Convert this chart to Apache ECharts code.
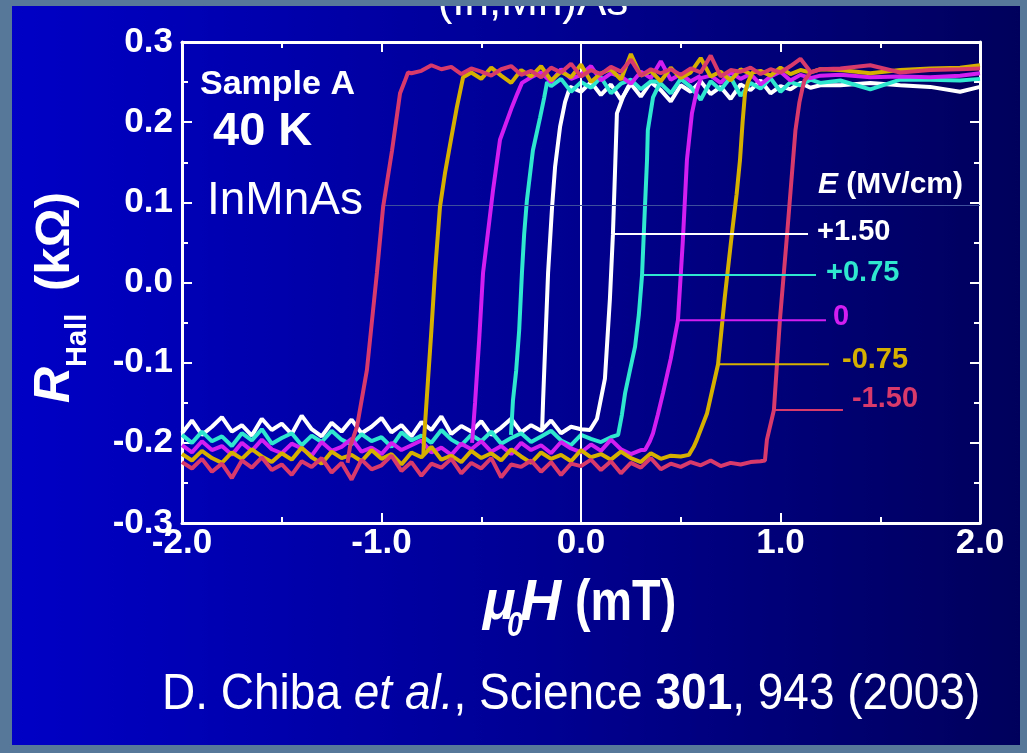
<!DOCTYPE html>
<html>
<head>
<meta charset="utf-8">
<script src="https://cdn.jsdelivr.net/npm/echarts@6/dist/echarts.min.js"></script>
<style>
  html, body { margin: 0; padding: 0; background: #58789a; }
  #chart { width: 1027px; height: 753px; }
</style>
</head>
<body>
<div id="chart"></div>
<script>
  // field grid used by the noisy flat parts of the loops (mT)
  const fieldGrid = [-2.00,-1.95,-1.90,-1.85,-1.80,-1.75,-1.70,-1.65,-1.60,-1.55,-1.50,-1.45,-1.40,-1.35,-1.30,-1.25,-1.20,-1.15,-1.10,-1.05,
    -1.00,-0.95,-0.90,-0.85,-0.80,-0.75,-0.70,-0.65,-0.60,-0.55,-0.50,-0.45,-0.40,-0.35,-0.30,-0.25,-0.20,-0.15,-0.10,-0.05,
    0.00,0.05,0.10,0.15,0.20,0.25,0.30,0.35,0.40,0.45,0.50,0.55,0.60,0.65,0.70,0.75,0.80,0.85,0.90,0.95,1.00,1.05,1.10,1.15,1.20];
  // sparse points at high field
  const tailField = [1.30, 1.45, 1.60, 1.75, 1.90, 2.00];

  const xTicks = [-2.0, -1.0, 0.0, 1.0, 2.0];
  const yTicks = [-0.3, -0.2, -0.1, 0.0, 0.1, 0.2, 0.3];

  // E = +1.50 MV/cm (white)
  const whiteBottom = [-0.188,-0.172,-0.190,-0.180,-0.168,-0.186,-0.178,-0.191,-0.170,-0.184,
    -0.176,-0.189,-0.166,-0.183,-0.192,-0.175,-0.186,-0.171,-0.188,-0.180,
    -0.169,-0.187,-0.178,-0.192,-0.174,-0.184,-0.167,-0.189,-0.179,-0.186,
    -0.173,-0.190,-0.181,-0.170,-0.187,-0.178,-0.185,-0.172,-0.188,-0.180,-0.183];
  const whiteRise = [[0.045,-0.184],[0.08,-0.17],[0.12,-0.12],[0.145,-0.02],[0.16,0.06],[0.172,0.15],[0.18,0.211],[0.21,0.231],[0.236,0.244]];
  const whiteTopRight = [0.248,0.232,0.250,0.240,0.226,0.246,0.238,0.251,0.235,0.244,
    0.229,0.247,0.240,0.252,0.236,0.245,0.241,0.249,0.243,0.246];
  const whiteTail = [0.246,0.249,0.246,0.244,0.238,0.244];
  const whiteFall = [[-0.195,-0.184],[-0.19,-0.147],[-0.178,-0.07],[-0.165,0.012],[-0.145,0.094],[-0.13,0.144],[-0.105,0.194],[-0.08,0.225],[-0.055,0.244]];
  const whiteTopLeft = [0.238,0.250,0.234,0.247,0.228,0.248];

  // E = +0.75 (cyan)
  const cyanBottom = [-0.190,-0.200,-0.186,-0.198,-0.192,-0.204,-0.188,-0.197,-0.183,-0.201,
    -0.194,-0.188,-0.203,-0.191,-0.199,-0.185,-0.196,-0.202,-0.189,-0.198,
    -0.193,-0.205,-0.187,-0.197,-0.191,-0.200,-0.184,-0.196,-0.203,-0.190,
    -0.198,-0.186,-0.201,-0.194,-0.188,-0.199,-0.192,-0.185,-0.197,-0.203,
    -0.190,-0.195,-0.199,-0.193];
  const cyanRise = [[0.186,-0.19],[0.205,-0.165],[0.221,-0.138],[0.245,-0.11],[0.271,-0.08],[0.29,-0.04],[0.306,0.009],[0.318,0.08],[0.331,0.153],[0.335,0.19],[0.361,0.231],[0.396,0.249]];
  const cyanTopRight = [0.250,0.236,0.254,0.244,0.228,0.251,0.240,0.256,0.233,0.249,
    0.242,0.255,0.238,0.250,0.246,0.253,0.249];
  const cyanTail = [0.252,0.241,0.253,0.253,0.252,0.254];
  const cyanFall = [[-0.351,-0.19],[-0.341,-0.147],[-0.325,-0.11],[-0.31,-0.06],[-0.296,0.012],[-0.285,0.06],[-0.271,0.103],[-0.241,0.165],[-0.205,0.206],[-0.185,0.23],[-0.17,0.25]];
  const cyanTopLeft = [0.245,0.254,0.238,0.250,0.243,0.256,0.236,0.248,0.253,0.241,0.251,0.250];

  // E = 0 (magenta)
  const magentaBottom = [-0.203,-0.212,-0.198,-0.209,-0.204,-0.215,-0.200,-0.210,-0.196,-0.208,
    -0.213,-0.201,-0.207,-0.216,-0.199,-0.210,-0.205,-0.195,-0.211,-0.206,
    -0.214,-0.200,-0.209,-0.203,-0.197,-0.212,-0.206,-0.215,-0.201,-0.208,
    -0.198,-0.211,-0.204,-0.214,-0.200,-0.209,-0.203,-0.213,-0.199,-0.207,
    -0.212,-0.202,-0.210,-0.196,-0.208,-0.214,-0.209];
  const magentaRise = [[0.321,-0.209],[0.345,-0.198],[0.361,-0.188],[0.385,-0.165],[0.411,-0.138],[0.45,-0.095],[0.486,-0.047],[0.51,0.05],[0.531,0.153],[0.556,0.211],[0.581,0.24],[0.6,0.255]];
  const magentaTopRight = [0.258,0.249,0.262,0.254,0.260,0.247,0.257,0.263,0.252,0.259,0.255,0.258];
  const magentaTail = [0.259,0.256,0.257,0.256,0.258,0.261];
  const magentaFall = [[-0.546,-0.2],[-0.531,-0.15],[-0.51,-0.07],[-0.491,0.012],[-0.471,0.053],[-0.441,0.115],[-0.406,0.178],[-0.346,0.219],[-0.32,0.235],[-0.296,0.249]];
  const magentaTopLeft = [0.256,0.262,0.250,0.266,0.254,0.259,0.270,0.252,0.261,0.257,0.248,0.263,0.255,0.276,0.253,0.260,0.251,0.258];

  // E = -0.75 (gold)
  const goldBottom = [-0.214,-0.222,-0.210,-0.219,-0.225,-0.212,-0.220,-0.208,-0.217,-0.224,
    -0.213,-0.221,-0.206,-0.218,-0.226,-0.211,-0.219,-0.215,-0.223,-0.209,
    -0.220,-0.214,-0.227,-0.212,-0.218,-0.205,-0.221,-0.216,-0.224,-0.210,
    -0.219,-0.213,-0.222,-0.208,-0.217,-0.225,-0.212,-0.220,-0.215,-0.223,
    -0.209,-0.218,-0.214,-0.221,-0.211,-0.219,-0.224,-0.213,-0.220,-0.216,-0.217];
  const goldRise = [[0.541,-0.215],[0.565,-0.205],[0.581,-0.196],[0.632,-0.163],[0.687,-0.102],[0.72,-0.02],[0.757,0.062],[0.78,0.11],[0.797,0.153],[0.81,0.2],[0.822,0.236],[0.837,0.25],[0.86,0.262]];
  const goldTopRight = [0.264,0.258,0.268,0.260,0.265,0.262,0.266];
  const goldTail = [0.265,0.261,0.265,0.267,0.268,0.271];
  const goldFall = [[-0.79,-0.215],[-0.787,-0.196],[-0.767,-0.122],[-0.75,-0.06],[-0.732,0.012],[-0.707,0.094],[-0.682,0.136],[-0.652,0.178],[-0.622,0.219],[-0.591,0.256]];
  const goldTopLeft = [0.262,0.254,0.268,0.258,0.249,0.265,0.257,0.270,0.252,0.263,
    0.256,0.272,0.250,0.261,0.266,0.253,0.285,0.258,0.264,0.251,
    0.268,0.255,0.262,0.280,0.257,0.263,0.252,0.266,0.260];

  // E = -1.50 (red)
  const redBottom = [-0.224,-0.232,-0.220,-0.236,-0.226,-0.244,-0.222,-0.231,-0.218,-0.234,
    -0.227,-0.240,-0.223,-0.230,-0.219,-0.237,-0.225,-0.246,-0.221,-0.233,
    -0.228,-0.216,-0.235,-0.224,-0.241,-0.226,-0.231,-0.220,-0.238,-0.225,
    -0.232,-0.219,-0.243,-0.227,-0.230,-0.222,-0.236,-0.224,-0.240,-0.226,
    -0.229,-0.221,-0.234,-0.223,-0.238,-0.225,-0.231,-0.219,-0.233,-0.226,
    -0.230,-0.224,-0.228,-0.222,-0.229,-0.225,-0.227,-0.224,-0.223];
  const redRise = [[0.922,-0.222],[0.932,-0.196],[0.967,-0.159],[0.997,-0.047],[1.033,0.06],[1.063,0.153],[1.075,0.19],[1.095,0.225],[1.108,0.24],[1.12,0.252],[1.15,0.262]];
  const redTopRight = [0.266];
  const redTail = [0.267,0.271,0.262,0.265,0.266,0.267];
  const redFall = [[-1.17,-0.225],[-1.158,-0.205],[-1.123,-0.18],[-1.073,-0.109],[-1.023,0.012],[-0.992,0.094],[-0.947,0.165],[-0.907,0.236],[-0.885,0.25],[-0.867,0.262]];
  const redTopLeft = [0.261,0.264,0.271,0.266,0.269,0.260,0.267,0.263,0.258,0.266,
    0.270,0.259,0.264,0.256,0.268,0.262,0.273,0.257,0.265,0.260,
    0.269,0.263,0.278,0.258,0.266,0.261,0.266,0.259,0.267,0.262,
    0.283,0.257,0.265,0.263,0.268,0.260,0.266,0.262,0.270,0.279,0.263];

  // legend leaders (drawn in data units)
  const legendLabels = ['+1.50', '+0.75', '0', '-0.75', '-1.50'];
  const leaderStartX = [0.160, 0.306, 0.486, 0.687, 0.967];
  const leaderEndX = [1.138, 1.178, 1.228, 1.243, 1.313];
  const leaderY = [0.0605, 0.0094, -0.047, -0.102, -0.159];

  const colors = ['#ffffff', '#2fe6cf', '#d21ef0', '#d6b000', '#d83a6c'];
  const FONT = "'Liberation Sans', Arial, sans-serif";

  function onGrid(startX, ys) {
    const i0 = fieldGrid.findIndex(v => Math.abs(v - startX) < 1e-6);
    return ys.map((y, k) => [fieldGrid[i0 + k], y]);
  }
  function onTail(ys) {
    return ys.map((y, k) => [tailField[k], y]);
  }

  const loops = [
    [whiteBottom, whiteRise, 0.25, whiteTopRight, whiteTail, whiteFall, 0.00, whiteTopLeft],
    [cyanBottom, cyanRise, 0.40, cyanTopRight, cyanTail, cyanFall, -0.15, cyanTopLeft],
    [magentaBottom, magentaRise, 0.65, magentaTopRight, magentaTail, magentaFall, -0.25, magentaTopLeft],
    [goldBottom, goldRise, 0.90, goldTopRight, goldTail, goldFall, -0.55, goldTopLeft],
    [redBottom, redRise, 1.20, redTopRight, redTail, redFall, -0.85, redTopLeft]
  ];

  const series = [];
  loops.forEach((l, i) => {
    const low = onGrid(-2.0, l[0]).concat(l[1], onGrid(l[2], l[3]), onTail(l[4]));
    const high = l[5].concat(onGrid(l[6], l[7]));
    [low, high].forEach(d => {
      series.push({
        type: 'line', data: d, showSymbol: false, symbol: 'none',
        lineStyle: { color: colors[i], width: 4 }, z: 3 + i
      });
    });
  });
  // zero-field line
  series[0].markLine = {
    silent: true, symbol: 'none', label: { show: false }, animation: false,
    data: [
      { xAxis: 0, lineStyle: { color: '#ffffff', width: 2, type: 'solid' } },
      [{ coord: [-1.0, 0.096], lineStyle: { color: '#3d4f9c', width: 1, type: 'solid' } }, { coord: [2.0, 0.096] }]
    ]
  };
  const labelOffsets = [[9, -2], [10, -2], [7, -3], [13, -4], [9, -11]];
  legendLabels.forEach((t, i) => {
    series.push({
      type: 'line', symbol: 'none', showSymbol: false, z: 10,
      data: [[leaderStartX[i], leaderY[i]], [leaderEndX[i], leaderY[i]]],
      lineStyle: { color: colors[i], width: 2 },
      endLabel: {
        show: true, formatter: t, color: colors[i], distance: 0, offset: labelOffsets[i],
        fontSize: 29, fontWeight: 'bold', fontFamily: FONT
      }
    });
  });

  const frameLine = { show: true, onZero: false, lineStyle: { color: '#ffffff', width: 3 } };
  const xBase = {
    type: 'value', min: -2, max: 2, interval: 1,
    axisLine: frameLine, splitLine: { show: false },
    axisTick: { show: true, inside: true, length: 10, lineStyle: { color: '#fff', width: 2 } },
    minorTick: { show: true, splitNumber: 2, length: 6, lineStyle: { color: '#fff', width: 2 } }
  };
  const yBase = {
    type: 'value', min: -0.3, max: 0.3, interval: 0.1,
    axisLine: frameLine, splitLine: { show: false },
    axisTick: { show: true, inside: true, length: 10, lineStyle: { color: '#fff', width: 2 } },
    minorTick: { show: true, splitNumber: 2, length: 6, lineStyle: { color: '#fff', width: 2 } }
  };
  const tickText = v => {
    const hit = (v < 0 ? yTicks.concat(xTicks) : xTicks.concat(yTicks)).find(t => Math.abs(t - v) < 1e-6);
    const val = hit === undefined ? v : hit;
    return Math.abs(val) < 1e-9 ? '0.0' : val.toFixed(1);
  };
  const labelStyle = { color: '#ffffff', fontSize: 35, fontWeight: 'bold', fontFamily: FONT, formatter: tickText };

  const slideGradient = new echarts.graphic.LinearGradient(0, 0, 1, 0, [
    { offset: 0, color: '#0000c6' }, { offset: 0.5, color: '#000096' }, { offset: 1, color: '#00005c' }
  ]);

  const chart = echarts.init(document.getElementById('chart'), null, { renderer: 'canvas' });
  chart.setOption({
    animation: false,
    backgroundColor: '#58789a',
    grid: { left: 182, top: 42, width: 798, height: 481, containLabel: false },
    xAxis: [
      Object.assign({}, xBase, { position: 'bottom', axisLabel: Object.assign({ margin: 3 }, labelStyle) }),
      Object.assign({}, xBase, { position: 'top', axisLabel: { show: false } })
    ],
    yAxis: [
      Object.assign({}, yBase, { position: 'left', axisLabel: Object.assign({ margin: 9 }, labelStyle) }),
      Object.assign({}, yBase, { position: 'right', axisLabel: { show: false } })
    ],
    series: series,
    graphic: [
      { type: 'rect', z: -100, silent: true, shape: { x: 12, y: 6, width: 1008, height: 739 }, style: { fill: slideGradient } },
      { type: 'text', z: 50, x: 533, y: 25, style: { text: '(In,Mn)As', fill: '#fff', font: '44px ' + FONT, align: 'center', verticalAlign: 'bottom' } },
      { type: 'rect', z: 60, silent: true, shape: { x: 0, y: 0, width: 1027, height: 6 }, style: { fill: '#58789a' } },
      { type: 'text', z: 50, x: 200, y: 85, style: { text: 'Sample A', fill: '#fff', font: 'bold 34px ' + FONT, verticalAlign: 'middle' } },
      { type: 'text', z: 50, x: 213, y: 132, style: { text: '40 K', fill: '#fff', font: 'bold 47px ' + FONT, verticalAlign: 'middle' } },
      { type: 'text', z: 50, x: 207, y: 201, style: { text: 'InMnAs', fill: '#fff', font: '46px ' + FONT, verticalAlign: 'middle' } },
      { type: 'text', z: 50, x: 818, y: 185, style: {
          text: '{i|E}{n| (MV/cm)}', fill: '#fff', verticalAlign: 'middle',
          rich: { i: { font: 'italic bold 30px ' + FONT, fill: '#fff' }, n: { font: 'bold 30px ' + FONT, fill: '#fff' } } } },
      // y axis title, reading upwards
      { type: 'text', z: 50, x: 55, y: 403, rotation: Math.PI / 2, style: { text: 'R', fill: '#fff', font: 'italic bold 50px ' + FONT, verticalAlign: 'middle' } },
      { type: 'text', z: 50, x: 78, y: 367, rotation: Math.PI / 2, style: { text: 'Hall', fill: '#fff', font: 'bold 29px ' + FONT, verticalAlign: 'middle' } },
      { type: 'text', z: 50, x: 55, y: 291, rotation: Math.PI / 2, style: { text: '(k\u03A9)', fill: '#fff', font: 'bold 49px ' + FONT, verticalAlign: 'middle' } },
      // x axis title
      { type: 'text', z: 50, x: 483, y: 604, style: { text: '\u03BC', fill: '#fff', font: 'italic bold 54px ' + FONT, verticalAlign: 'middle' } },
      { type: 'text', z: 50, x: 507, y: 626, scaleX: 0.82, style: { text: '0', fill: '#fff', font: 'italic bold 35px ' + FONT, verticalAlign: 'middle' } },
      { type: 'text', z: 50, x: 520, y: 604, style: { text: 'H', fill: '#fff', font: 'italic bold 57px ' + FONT, verticalAlign: 'middle' } },
      { type: 'text', z: 50, x: 575, y: 604, scaleX: 0.82, style: { text: '(mT)', fill: '#fff', font: 'bold 57px ' + FONT, verticalAlign: 'middle' } },
      // citation
      { type: 'text', z: 50, x: 162, y: 695, scaleY: 1.1, style: {
          text: '{n|D. Chiba }{i|et al.}{n|, Science }{b|301}{n|, 943 (2003)}', fill: '#fff', verticalAlign: 'middle',
          rich: {
            n: { font: '46px ' + FONT, fill: '#fff' },
            i: { font: 'italic 46px ' + FONT, fill: '#fff' },
            b: { font: 'bold 46px ' + FONT, fill: '#fff' }
          } } }
    ]
  });
</script>
</body>
</html>
